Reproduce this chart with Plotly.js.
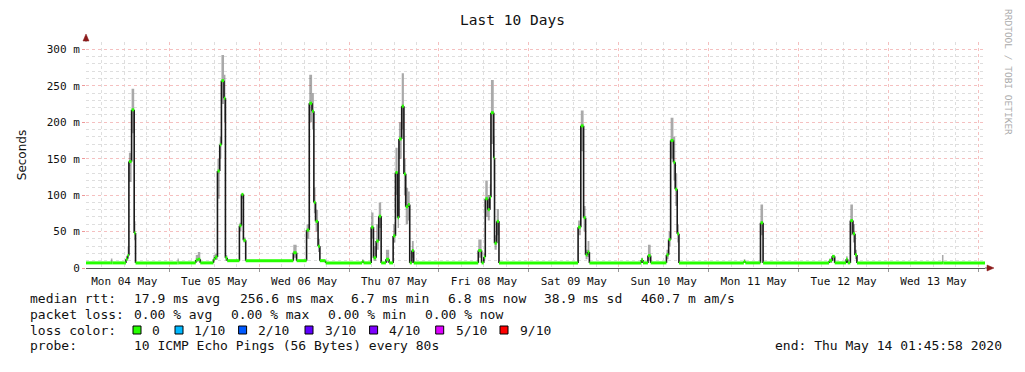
<!DOCTYPE html>
<html>
<head>
<meta charset="utf-8">
<script src="https://cdn.plot.ly/plotly-3.0.1.min.js"></script>
<style>
  html, body { margin: 0; padding: 0; background: #fff; }
  #chart { width: 1025px; height: 372px; }
</style>
</head>
<body>
<div id="chart"></div>
<script>
// ---- DATA (hours since 2020-05-04 00:00, values in ms) ----
const sampleHour = [1.77, 8.42, 8.82, 12.15, 12.42, 12.87, 13.22, 13.94, 14.63, 14.99,
  26.20, 26.54, 31.07, 31.61, 32.27, 35.79, 36.22, 36.86, 37.47, 37.92, 38.61, 38.99, 39.47,
  42.72, 43.26, 43.79, 44.40, 57.11, 57.99, 60.65, 61.37, 62.12, 62.60, 63.05, 63.72, 64.20,
  65.73, 75.50, 75.84, 77.90, 78.51, 79.23, 79.92, 80.56, 81.84, 82.70, 83.76, 84.38, 84.96,
  85.31, 86.05, 86.64, 87.12, 87.76, 88.19, 88.77, 89.25, 106.49, 107.37, 107.96, 108.36,
  109.02, 109.56, 109.87, 110.62, 110.83, 111.42, 112.01, 133.14, 133.86, 134.61, 135.14,
  135.67, 136.15, 150.01, 150.46, 151.79, 152.51, 156.72, 157.31, 157.84, 158.59, 159.07,
  159.60, 160.06, 177.38, 177.78, 181.83, 182.52, 200.16, 200.96, 201.63, 204.70, 205.10,
  205.82, 206.51, 207.05, 207.58, 230.28, 230.68, 241.77];
const medianMs = [7, 7, 7, 7, 12, 17, 146, 217, 48, 7,
  7, 7, 11, 12, 7, 12, 15, 133, 169, 257, 233, 14, 10,
  58, 101, 38, 10, 21, 10, 52, 226, 215, 90, 64, 30, 10,
  7, 9, 7, 56, 14, 37, 71, 7, 12, 7, 44, 131, 69,
  177, 222, 129, 84, 87, 7, 24, 7, 24, 7, 15, 95,
  80, 97, 213, 151, 34, 64, 7, 56, 195, 69, 18,
  22, 7, 11, 7, 17, 7, 18, 39, 175, 145, 108,
  47, 7, 9, 7, 62, 7, 10, 16, 7, 12, 7,
  65, 47, 18, 7, 7, 7, 7];
const smokeLoMs = [7, 7, 7, 7, 10, 14, 118, 185, 38, 7,
  7, 7, 9, 9, 7, 9, 11, 95, 150, 225, 200, 10, 9,
  50, 95, 35, 9, 14, 9, 40, 200, 190, 75, 50, 22, 9,
  7, 7, 7, 40, 10, 25, 55, 7, 8, 7, 35, 100, 55,
  150, 190, 100, 60, 65, 7, 14, 7, 14, 7, 10, 70,
  65, 80, 170, 120, 25, 45, 7, 45, 160, 50, 12,
  15, 7, 8, 7, 10, 7, 12, 30, 150, 120, 85,
  35, 7, 7, 7, 45, 7, 7, 10, 7, 8, 7,
  45, 35, 12, 7, 7, 7, 7];
const smokeHiMs = [7, 13, 7, 7, 16, 30, 158, 246, 64, 7,
  13, 7, 18, 22, 7, 18, 20, 150, 180, 292, 265, 18, 11,
  62, 102, 42, 11, 32, 11, 60, 265, 240, 110, 80, 40, 11,
  7, 12, 7, 76, 30, 60, 90, 7, 25, 7, 60, 165, 95,
  200, 267, 150, 110, 105, 7, 37, 7, 39, 7, 20, 120,
  100, 115, 258, 180, 45, 81, 7, 65, 216, 85, 25,
  37, 7, 14, 7, 32, 7, 25, 50, 206, 180, 130,
  60, 7, 12, 7, 87, 7, 13, 18, 7, 16, 7,
  87, 60, 25, 7, 18, 7, 7];

const yTickVals = [0, 50, 100, 150, 200, 250, 300];
const yTickText = ['0', '50 m', '100 m', '150 m', '200 m', '250 m', '300 m'];

const statsRow1 = ['median rtt:', '17.9 ms avg', '256.6 ms max', '6.7 ms min', '6.8 ms now', '38.9 ms sd', '460.7 m am/s'];
const statsRow2 = ['packet loss:', '0.00 % avg', '0.00 % max', '0.00 % min', '0.00 % now'];
const lossLabels = ['0', '1/10', '2/10', '3/10', '4/10', '5/10', '9/10'];
const lossColors = ['#26ff00', '#00b8ff', '#0059ff', '#5e00ff', '#7e00ff', '#dd00ff', '#ff0000'];
const probeText = '10 ICMP Echo Pings (56 Bytes) every 80s';
const endText = 'end: Thu May 14 01:45:58 2020';
const rangeStart = '2020-05-04 01:45:58';
const rangeEnd = '2020-05-14 01:45:58';

// ---- helpers ----
const BASE = Date.UTC(2020, 4, 4);
function toDate(h) {
  return new Date(BASE + h * 3600000).toISOString().replace('T', ' ').slice(0, 19);
}
const X = sampleHour.map(toDate);

// median: green horizontals, dark verticals
const hx = [], hy = [], vx = [], vy = [];
for (let i = 0; i < X.length - 1; i++) {
  hx.push(X[i], X[i + 1], null); hy.push(medianMs[i], medianMs[i], null);
  if (medianMs[i + 1] !== medianMs[i]) {
    vx.push(X[i + 1], X[i + 1], null); vy.push(medianMs[i], medianMs[i + 1], null);
  }
}

const PL = 86, PR = 985, PT = 42, PB = 268;
const PW = PR - PL, PH = PB - PT;
const px = v => (v - PL) / PW;
const py = v => (PB - v) / PH;

const MONO = 'DejaVu Sans Mono';

const traces = [
  { x: X, y: smokeHiMs, type: 'scatter', mode: 'lines', line: { width: 0, shape: 'hv' }, hoverinfo: 'skip', showlegend: false },
  { x: X, y: smokeLoMs, type: 'scatter', mode: 'lines', line: { width: 0, shape: 'hv' }, fill: 'tonexty', fillcolor: 'rgba(50,50,50,0.42)', hoverinfo: 'skip', showlegend: false },
  { x: vx, y: vy, type: 'scatter', mode: 'lines', line: { color: '#1a1a1a', width: 1.6 }, hoverinfo: 'skip', showlegend: false },
  { x: hx, y: hy, type: 'scatter', mode: 'lines', line: { color: '#26ff00', width: 3 }, hoverinfo: 'skip', showlegend: false }
];

const annotations = [];
function txt(s, x, y, opts) {
  annotations.push(Object.assign({
    text: s, xref: 'paper', yref: 'paper', x: px(x), y: py(y), xanchor: 'left', yanchor: 'middle',
    showarrow: false, font: { family: MONO, size: 13, color: '#111' }
  }, opts || {}));
}
const row1X = [28, 132, 237.5, 349, 446, 542, 639];
statsRow1.forEach((s, i) => txt(s, row1X[i], 298.5));
const row2X = [28, 132, 228.6, 325.7, 422.5];
statsRow2.forEach((s, i) => txt(s, row2X[i], 314));
txt('loss color:', 28, 330);
const sqX = [133, 175, 238.6, 305, 369.6, 435.7, 500];
const lblX = [150, 191.8, 256, 322.5, 386.8, 453.6, 518];
const shapes = [];
lossLabels.forEach((s, i) => {
  txt(s, lblX[i], 330);
  shapes.push({ type: 'rect', xref: 'paper', yref: 'paper', x0: px(sqX[i]), x1: px(sqX[i] + 8), y0: py(334), y1: py(326),
    fillcolor: lossColors[i], line: { color: '#000', width: 1 } });
});
txt('probe:', 28, 345.5);
txt(probeText, 132, 345.5);
txt(endText, 773, 345.5);
annotations.push({ text: 'RRDTOOL / TOBI OETIKER', xref: 'paper', yref: 'paper', x: px(1009), y: py(72),
  textangle: 90, showarrow: false, xanchor: 'center', yanchor: 'middle',
  font: { family: MONO, size: 9.5, color: '#aaaaaa' } });

// axis arrows
shapes.push({ type: 'line', xref: 'paper', yref: 'paper', x0: px(985), x1: px(989), y0: 0, y1: 0, line: { color: '#555', width: 1 } });
shapes.push({ type: 'path', xref: 'paper', yref: 'paper',
  path: `M ${px(987)} ${py(265)} L ${px(994)} ${py(268)} L ${px(987)} ${py(271)} Z`, fillcolor: '#8b1a1a', line: { color: '#8b1a1a', width: 0.5 } });
shapes.push({ type: 'line', xref: 'paper', yref: 'paper', x0: 0, x1: 0, y0: 1, y1: py(39), line: { color: '#888', width: 1 } });
shapes.push({ type: 'path', xref: 'paper', yref: 'paper',
  path: `M ${px(83)} ${py(41)} L ${px(86)} ${py(34)} L ${px(89)} ${py(41)} Z`, fillcolor: '#8b1a1a', line: { color: '#8b1a1a', width: 0.5 } });

const layout = {
  width: 1025, height: 372,
  margin: { l: PL, r: 1025 - PR, t: PT, b: 372 - PB },
  paper_bgcolor: '#ffffff', plot_bgcolor: '#ffffff',
  showlegend: false,
  title: { text: 'Last 10 Days', xref: 'container', x: 0.5, xanchor: 'center', yref: 'container', y: 1 - 20 / 372, yanchor: 'middle',
    font: { family: MONO, size: 14.5, color: '#111' } },
  xaxis: {
    type: 'date', range: [rangeStart, rangeEnd],
    tick0: '2020-05-04 00:00:00', dtick: 86400000, ticklabelmode: 'period', tickformat: '%a %d %b',
    showgrid: true, gridcolor: '#f5c0c0', griddash: 'dot', gridwidth: 1,
    minor: { dtick: 21600000, tick0: '2020-05-04 00:00:00', showgrid: true, gridcolor: '#dedede', griddash: 'dot', gridwidth: 1 },
    ticks: 'outside', ticklen: 3, tickcolor: '#999',
    showline: true, linecolor: '#555', linewidth: 1, zeroline: false,
    tickfont: { family: MONO, size: 11, color: '#111' }, fixedrange: true
  },
  yaxis: {
    range: [0, 310], tickvals: yTickVals, ticktext: yTickText,
    showgrid: true, gridcolor: '#f5c0c0', griddash: 'dot', gridwidth: 1,
    minor: { dtick: 10, showgrid: true, gridcolor: '#dedede', griddash: 'dot', gridwidth: 1 },
    ticks: 'outside', ticklen: 3, tickcolor: '#e99',
    showline: false, zeroline: false,
    tickfont: { family: MONO, size: 11, color: '#111' },
    title: { text: 'Seconds', standoff: 17, font: { family: 'DejaVu Sans', size: 12, color: '#111' } },
    fixedrange: true
  },
  annotations: annotations,
  shapes: shapes
};

Plotly.newPlot('chart', traces, layout, { staticPlot: true, displayModeBar: false });
</script>
</body>
</html>
